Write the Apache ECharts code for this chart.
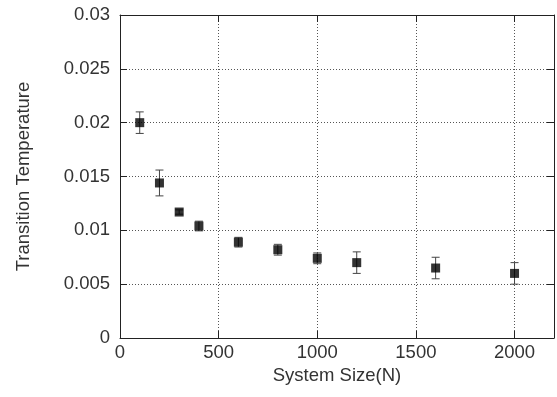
<!DOCTYPE html>
<html>
<head>
<meta charset="utf-8">
<script src="https://cdn.jsdelivr.net/npm/echarts@6/dist/echarts.min.js"></script>
<style>
  html, body { margin: 0; padding: 0; background: #fff; }
  #chart { width: 557px; height: 397px; }
</style>
</head>
<body>
<div id="chart"></div>
<script>
// System size N and the measured transition temperature with its uncertainty
const sizes = [100, 200, 300, 400, 600, 800, 1000, 1200, 1600, 2000];
const temps = [0.0200, 0.0144, 0.0117, 0.0104, 0.0089, 0.0082, 0.0074, 0.0070, 0.0065, 0.0060];
const errs  = [0.0010, 0.0012, 0.0002, 0.00045, 0.00045, 0.0005, 0.0005, 0.0010, 0.0010, 0.0010];

const FONT = 'Liberation Sans';
const FSIZE = 18.5;
const TEXT = '#333';
const FRAME = '#222';

const points = sizes.map((n, i) => [n, temps[i]]);
const bars = sizes.map((n, i) => [n, temps[i] - errs[i], temps[i] + errs[i]]);

const gridLine = { show: true, lineStyle: { color: '#555', width: 1, type: [1, 2] } };
const frameLine = { show: true, onZero: false, lineStyle: { color: FRAME, width: 1 } };
const innerTicks = { show: true, inside: true, length: 7, lineStyle: { color: FRAME, width: 1 } };

const chart = echarts.init(document.getElementById('chart'), null, { renderer: 'canvas' });

chart.setOption({
  animation: false,
  backgroundColor: '#fff',
  grid: { left: 120, right: 3, top: 15, bottom: 59 },
  xAxis: [
    {
      type: 'value', min: 0, max: 2200, interval: 500, position: 'bottom',
      name: 'System Size(N)', nameLocation: 'middle', nameGap: 28,
      nameTextStyle: { fontFamily: FONT, fontSize: FSIZE, color: TEXT },
      axisLine: frameLine, axisTick: innerTicks,
      axisLabel: {
        fontFamily: FONT, fontSize: FSIZE, color: TEXT, margin: 5,
        formatter: v => (v % 500 === 0 ? String(v) : '')
      },
      splitLine: gridLine
    },
    {
      type: 'value', min: 0, max: 2200, interval: 500, position: 'top',
      axisLine: frameLine, axisTick: innerTicks,
      axisLabel: { show: false }, splitLine: { show: false }
    }
  ],
  yAxis: [
    {
      type: 'value', min: 0, max: 0.03, interval: 0.005, position: 'left',
      name: 'Transition Temperature', nameLocation: 'middle', nameGap: 87,
      nameTextStyle: { fontFamily: FONT, fontSize: FSIZE, color: TEXT },
      axisLine: frameLine, axisTick: innerTicks,
      axisLabel: {
        fontFamily: FONT, fontSize: FSIZE, color: TEXT, margin: 10,
        formatter: v => String(+v.toFixed(3))
      },
      splitLine: gridLine
    },
    {
      type: 'value', min: 0, max: 0.03, interval: 0.005, position: 'right',
      axisLine: frameLine, axisTick: innerTicks,
      axisLabel: { show: false }, splitLine: { show: false }
    }
  ],
  series: [
    {
      type: 'custom',
      name: 'error',
      data: bars,
      z: 2,
      renderItem: (params, api) => {
        const x = api.value(0);
        const lo = api.coord([x, api.value(1)]);
        const hi = api.coord([x, api.value(2)]);
        const half = 4;
        const style = { stroke: '#444', lineWidth: 1 };
        return {
          type: 'group',
          children: [
            { type: 'line', shape: { x1: lo[0], y1: lo[1], x2: hi[0], y2: hi[1] }, style },
            { type: 'line', shape: { x1: lo[0] - half, y1: lo[1], x2: lo[0] + half, y2: lo[1] }, style },
            { type: 'line', shape: { x1: hi[0] - half, y1: hi[1], x2: hi[0] + half, y2: hi[1] }, style }
          ]
        };
      }
    },
    {
      type: 'scatter',
      name: 'temperature',
      data: points,
      symbol: 'rect',
      symbolSize: [9, 9],
      itemStyle: { color: '#000' },
      z: 3
    }
  ]
});
</script>
</body>
</html>
